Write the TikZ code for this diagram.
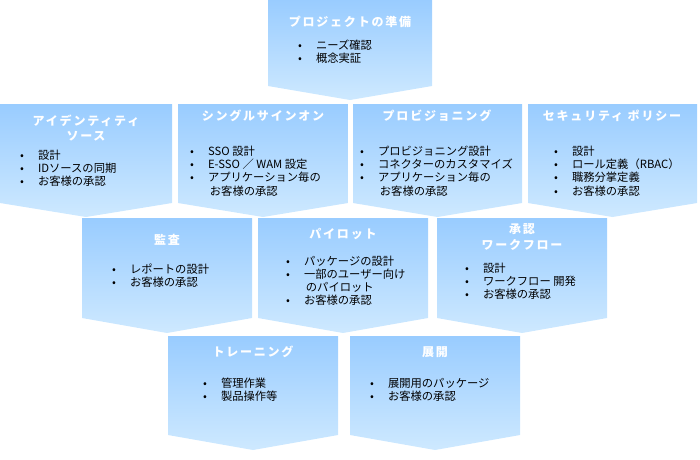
\documentclass[tikz,border=0pt]{standalone}
\usepackage{fontspec}
\setmainfont{Noto Sans CJK JP}
\newfontfamily\titlefont[LetterSpace=15]{Noto Sans CJK JP}

\definecolor{phasetop}{RGB}{153,204,255}
\definecolor{phasebottom}{RGB}{206,233,255}

\tikzset{
  phase/.style={top color=phasetop, bottom color=phasebottom, draw=none},
  title/.style={text=white, inner sep=0pt, align=center,
    font=\titlefont\bfseries\fontsize{12}{15.5}\selectfont},
  items/.style={anchor=base west, inner sep=0pt,
    font=\fontsize{11.3}{13}\selectfont},
}
\newcommand{\itemlist}[1]{\begin{tabular}[t]{@{}l@{\hspace{14pt}}l@{}}#1\end{tabular}}

\begin{document}
\begin{tikzpicture}[x=1pt, y=-1pt]
  \useasboundingbox (0,0) rectangle (700,459);

  % Phases
  \shade[phase] (268,0) -- (432,0) -- (432,86) -- (350,100) -- (268,86) -- cycle;
  \shade[phase] (0,104) -- (172,104) -- (172,203) -- (86,217) -- (0,203) -- cycle;
  \shade[phase] (178,104) -- (348,104) -- (348,203) -- (263,217) -- (178,203) -- cycle;
  \shade[phase] (353,104) -- (522,104) -- (522,203) -- (437.5,217) -- (353,203) -- cycle;
  \shade[phase] (528,104) -- (697,104) -- (697,203) -- (612.5,217) -- (528,203) -- cycle;
  \shade[phase] (82,218) -- (252,218) -- (252,318) -- (167,333) -- (82,318) -- cycle;
  \shade[phase] (258,218) -- (428,218) -- (428,318) -- (343,333) -- (258,318) -- cycle;
  \shade[phase] (437,218) -- (607,218) -- (607,318) -- (522,333) -- (437,318) -- cycle;
  \shade[phase] (168,336) -- (338,336) -- (338,435) -- (253,450) -- (168,435) -- cycle;
  \shade[phase] (350,336) -- (520,336) -- (520,435) -- (435,450) -- (350,435) -- cycle;

  % Titles
  \node[title] (prep) at (350,22) {プロジェクトの準備};
  \node[title] (idsrc) at (86,128) {アイデンティティ\\ソース};
  \node[title] (sso) at (263,116) {シングルサインオン};
  \node[title] (prov) at (437,116) {プロビジョニング};
  \node[title] (secpol) at (612,116) {セキュリティ ポリシー};
  \node[title] (audit) at (167,240) {監査};
  \node[title] (pilot) at (343,234) {パイロット};
  \node[title] (wflow) at (522,237) {承認\\ワークフロー};
  \node[title] (train) at (253,352) {トレーニング};
  \node[title] (deploy) at (435,352) {展開};

  % Items
  \node[items] (prepitems) at (298,49) {\itemlist{• & ニーズ確認\\ • & 概念実証}};
  \node[items] (idsrcitems) at (20,159) {\itemlist{• & 設計\\ • & IDソースの同期\\ • & お客様の承認}};
  \node[items] (ssoitems) at (190,155) {\itemlist{• & SSO 設計\\ • & E-SSO ／ WAM 設定\\ • & アプリケーション毎の\\ & \,お客様の承認}};
  \node[items] (provitems) at (360,155) {\itemlist{• & プロビジョニング設計\\ • & コネクターのカスタマイズ\\ • & アプリケーション毎の\\ & \,お客様の承認}};
  \node[items] (secpolitems) at (554,155) {\itemlist{• & 設計\\ • & ロール定義（RBAC）\\ • & 職務分掌定義\\ • & お客様の承認}};
  \node[items] (audititems) at (112,273) {\itemlist{• & レポートの設計\\ • & お客様の承認}};
  \node[items] (pilotitems) at (286,265) {\itemlist{• & パッケージの設計\\ • & 一部のユーザー向け\\ & \,のパイロット\\ • & お客様の承認}};
  \node[items] (wflowitems) at (465,272) {\itemlist{• & 設計\\ • & ワークフロー 開発\\ • & お客様の承認}};
  \node[items] (trainitems) at (203,387) {\itemlist{• & 管理作業\\ • & 製品操作等}};
  \node[items] (deployitems) at (370,387) {\itemlist{• & 展開用のパッケージ\\ • & お客様の承認}};
\end{tikzpicture}
\end{document}
